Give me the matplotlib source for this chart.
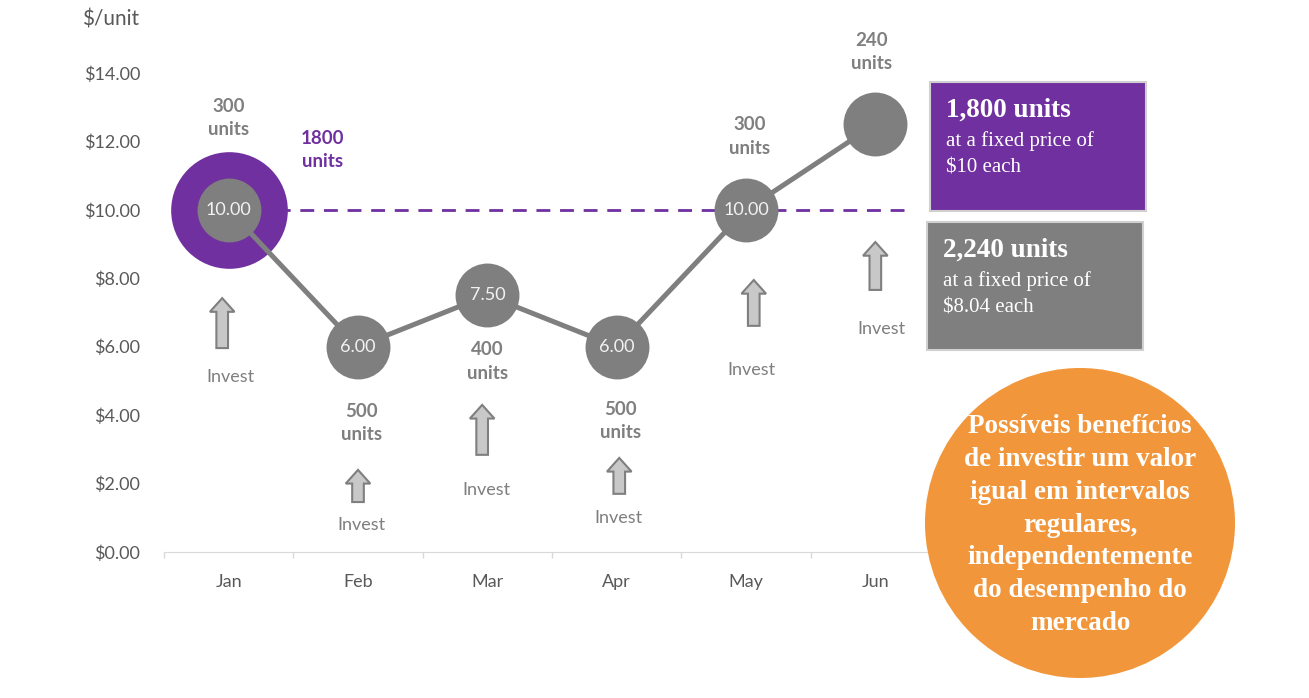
import numpy as np
import matplotlib
matplotlib.use("Agg")
import matplotlib.pyplot as plt
from matplotlib.patches import FancyArrow, Rectangle, Circle

plt.rcParams['font.family'] = ['Lato', 'DejaVu Sans']

# dados
months = ['Jan', 'Feb', 'Mar', 'Apr', 'May', 'Jun']
price = [10.00, 6.00, 7.50, 6.00, 10.00, 12.50]
units = [300, 500, 400, 500, 300, 240]
show_price = [True, True, True, True, True, False]
fixed_price = 10.0
monthly_invest = 3000

total_units = sum(units)
total_invest = monthly_invest * len(months)
fixed_units = total_invest / fixed_price
avg_price = total_invest / total_units

# posicoes dos rotulos (layout)
units_lbl_xy = [(0.0, 12.68), (1.03, 3.77), (2.0, 5.57), (3.03, 3.83), (4.03, 12.14), (4.97, 14.61)]
arrow_xy = [(-0.05, 5.96, 7.42), (1.0, 1.46, 2.40), (1.96, 2.84, 4.30),
            (3.02, 1.70, 2.75), (4.06, 6.61, 7.95), (5.0, 7.66, 9.06)]
invest_xy = [(0.01, 5.11), (1.03, 0.79), (1.99, 1.81), (3.01, 0.99), (4.04, 5.32), (5.05, 6.52)]

GREY = '#7f7f7f'
DARK = '#595959'
PURPLE = '#7030a0'
ORANGE = '#f1963a'

fig = plt.figure(figsize=(13.09, 6.98), dpi=100)
ax = fig.add_axes([164/1309, (698-552)/698, 776/1309, (552-73)/698])
x = np.arange(len(months))

# linha do preco fixo
ax.plot([0, 5.22], [fixed_price, fixed_price], color=PURPLE, lw=2, ls=(0, (5, 3.5)), zorder=1)
ax.plot([0], [fixed_price], 'o', ms=84, color=PURPLE, mec='none', zorder=2)
ax.plot(x, price, color=GREY, lw=3.6, zorder=3)
ax.plot(x, price, 'o', ms=46, color=GREY, mec='none', zorder=4)

for i in range(len(months)):
    if show_price[i]:
        ax.text(x[i], price[i], '%.2f' % price[i], color='#f2f2f2', fontsize=13,
                ha='center', va='center', zorder=6)
    ux, uy = units_lbl_xy[i]
    ax.text(ux, uy, '%d\nunits' % units[i], color=GREY, fontsize=13.5, fontweight='bold',
            ha='center', va='center', linespacing=1.45, zorder=6, clip_on=False)
    axx, y0, y1 = arrow_xy[i]
    ax.add_patch(FancyArrow(axx, y0, 0, y1 - y0, width=0.09, head_width=0.19,
                            head_length=0.4, length_includes_head=True,
                            fc='#c8c8c8', ec=GREY, lw=1.5, zorder=5))
    ix, iy = invest_xy[i]
    ax.text(ix, iy, 'Invest', color=GREY, fontsize=13, ha='center', va='center', zorder=6)

ax.text(0.725, 11.75, '%d\nunits' % fixed_units, color=PURPLE, fontsize=13.5, fontweight='bold',
        ha='center', va='center', linespacing=1.45, zorder=6)

ax.set_xlim(-0.5, 5.5)
ax.set_ylim(0, 14)
ax.set_yticks(np.arange(0, 15, 2))
ax.set_yticklabels(['$%.2f' % v for v in np.arange(0, 15, 2)])
ax.set_xticks(x)
ax.set_xticklabels(months)
ax.set_xticks(np.arange(-0.5, 6, 1), minor=True)
ax.tick_params(axis='y', length=0, pad=17, labelsize=13, labelcolor=DARK)
ax.tick_params(axis='x', which='major', length=0, pad=16, labelsize=13, labelcolor=DARK)
ax.tick_params(axis='x', which='minor', length=4, color='#d9d9d9', width=1)
for s in ['top', 'right', 'left']:
    ax.spines[s].set_visible(False)
ax.spines['bottom'].set_color('#d9d9d9')
ax.patch.set_alpha(0)

# camada de anotacoes em pixels
ov = fig.add_axes([0, 0, 1, 1], zorder=10)
ov.set_xlim(0, 1309)
ov.set_ylim(698, 0)
ov.axis('off')
ov.patch.set_alpha(0)

ov.text(111, 20, '$/unit', color=DARK, fontsize=15, ha='center', va='center')

serif = ['Liberation Serif', 'DejaVu Serif']
ov.add_patch(Rectangle((930, 82), 216, 129, fc=PURPLE, ec='#d0d0d0', lw=1.5))
ov.text(946, 110, '{:,} units'.format(int(fixed_units)), color='white', fontsize=19.5,
        fontweight='bold', family=serif, va='center')
ov.text(946, 154, 'at a fixed price of\n$%d each' % fixed_price, color='white', fontsize=15,
        family=serif, va='center', linespacing=1.55)

ov.add_patch(Rectangle((927, 222), 216, 128, fc=GREY, ec='#d0d0d0', lw=1.5))
ov.text(943, 250, '{:,} units'.format(total_units), color='white', fontsize=19.5,
        fontweight='bold', family=serif, va='center')
ov.text(943, 294, 'at a fixed price of\n$%.2f each' % avg_price, color='white', fontsize=15,
        family=serif, va='center', linespacing=1.55)

ov.add_patch(Circle((1080, 523), 155, fc=ORANGE, ec='none'))
ov.text(1080, 525, 'Possíveis benefícios\nde investir um valor\nigual em intervalos\nregulares,\n'
        'independentemente\ndo desempenho do\nmercado', color='white', fontsize=19.5,
        fontweight='bold', family=serif, ha='center', va='center', linespacing=1.41)

fig.savefig('out.png', dpi=100)
